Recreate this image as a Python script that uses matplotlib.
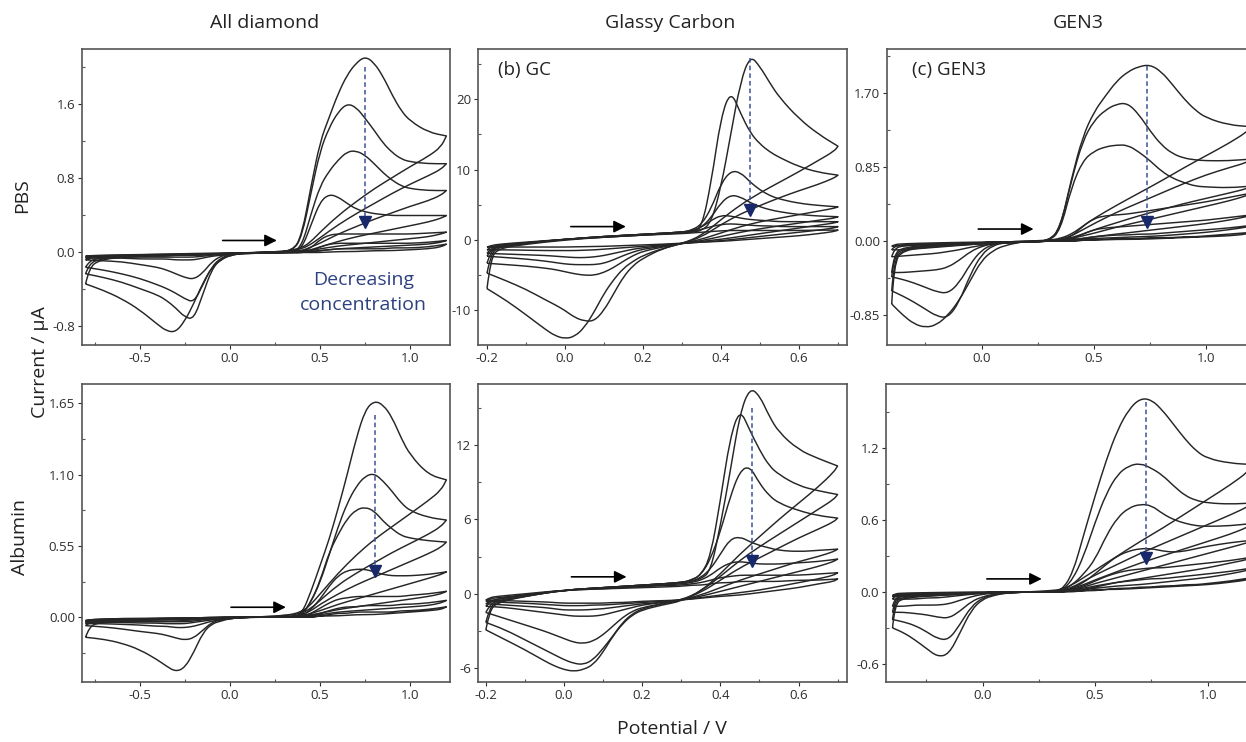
import matplotlib
matplotlib.use('Agg')
import matplotlib.pyplot as plt
from matplotlib.path import Path
from matplotlib.patches import PathPatch

plt.rcParams['font.family'] = ['Open Sans', 'DejaVu Sans']

# ---------------- potential grids (V) ----------------
ad_E_fwd = [-0.80, -0.78, -0.72, -0.6, -0.4, -0.2, 0.0, 0.2, 0.35, 0.40, 0.45, 0.50,
            0.55, 0.60, 0.65, 0.70, 0.75, 0.80, 0.85, 0.90, 0.95, 1.00, 1.10, 1.20]
ad_E_rev = [1.20, 1.17, 1.10, 1.00, 0.90, 0.80, 0.70, 0.60, 0.50, 0.45, 0.40, 0.30, 0.10,
            0.00, -0.05, -0.10, -0.15, -0.20, -0.25, -0.30, -0.35, -0.40, -0.50, -0.60, -0.70, -0.80]

gc_E_fwd = [-0.20, -0.19, -0.17, -0.1, 0.0, 0.1, 0.2, 0.3, 0.325, 0.35, 0.375, 0.40,
            0.425, 0.45, 0.475, 0.50, 0.525, 0.55, 0.60, 0.65, 0.70]
gc_E_rev = [0.70, 0.69, 0.65, 0.60, 0.55, 0.50, 0.45, 0.40, 0.35, 0.30, 0.25, 0.20, 0.175,
            0.15, 0.125, 0.10, 0.075, 0.05, 0.025, 0.0, -0.025, -0.05, -0.10, -0.15, -0.20]

gen3_E_fwd = [-0.40, -0.39, -0.35, -0.2, 0.0, 0.2, 0.3, 0.35, 0.40, 0.45, 0.50, 0.55,
              0.60, 0.65, 0.70, 0.75, 0.80, 0.85, 0.90, 0.95, 1.00, 1.10, 1.20]
gen3_E_rev = [1.20, 1.18, 1.10, 1.00, 0.90, 0.80, 0.70, 0.60, 0.50, 0.45, 0.40, 0.35, 0.30,
              0.20, 0.10, 0.05, 0.0, -0.05, -0.10, -0.15, -0.20, -0.25, -0.30, -0.35, -0.40]

# ---------------- All diamond, PBS (uA) ----------------
ad_pbs_fwd = [
    [-0.34, -0.16, -0.08, -0.05, -0.03, -0.02, -0.01, 0.0, 0.01, 0.2, 0.72, 1.2, 1.46, 1.72, 1.92, 2.05, 2.12, 2.05, 1.9, 1.7, 1.53, 1.42, 1.30, 1.26],
    [-0.23, -0.12, -0.07, -0.05, -0.03, -0.02, -0.01, 0.0, 0.01, 0.18, 0.65, 1.1, 1.35, 1.52, 1.61, 1.57, 1.45, 1.32, 1.18, 1.08, 1.01, 0.98, 0.96, 0.96],
    [-0.16, -0.09, -0.06, -0.04, -0.03, -0.02, -0.01, 0.0, 0.0, 0.08, 0.42, 0.72, 0.88, 1.0, 1.09, 1.1, 1.05, 0.96, 0.86, 0.78, 0.72, 0.69, 0.67, 0.67],
    [-0.08, -0.06, -0.05, -0.04, -0.03, -0.02, -0.01, 0.0, 0.0, 0.05, 0.3, 0.55, 0.63, 0.6, 0.53, 0.47, 0.44, 0.42, 0.41, 0.40, 0.40, 0.40, 0.40, 0.40],
    [-0.06, -0.05, -0.045, -0.035, -0.025, -0.02, -0.01, 0.0, 0.0, 0.01, 0.05, 0.14, 0.19, 0.2, 0.2, 0.2, 0.2, 0.2, 0.2, 0.2, 0.2, 0.2, 0.21, 0.22],
    [-0.05, -0.04, -0.035, -0.03, -0.02, -0.015, -0.01, 0.0, 0.0, 0.0, 0.02, 0.06, 0.09, 0.1, 0.1, 0.1, 0.1, 0.1, 0.1, 0.1, 0.1, 0.1, 0.11, 0.13],
    [-0.04, -0.035, -0.03, -0.025, -0.02, -0.01, -0.005, 0.0, 0.0, 0.0, 0.01, 0.02, 0.03, 0.04, 0.04, 0.04, 0.04, 0.04, 0.04, 0.05, 0.05, 0.05, 0.06, 0.09],
]
ad_pbs_rev = [
    [1.26, 1.14, 1.04, 0.93, 0.81, 0.69, 0.55, 0.40, 0.22, 0.12, 0.05, 0.01, 0.0, -0.03, -0.08, -0.16, -0.33, -0.55, -0.74, -0.86, -0.85, -0.78, -0.62, -0.5, -0.41, -0.34],
    [0.96, 0.9, 0.83, 0.74, 0.64, 0.53, 0.42, 0.30, 0.16, 0.09, 0.04, 0.0, 0.0, -0.03, -0.07, -0.18, -0.45, -0.72, -0.70, -0.60, -0.52, -0.46, -0.39, -0.32, -0.27, -0.23],
    [0.67, 0.62, 0.56, 0.5, 0.43, 0.36, 0.28, 0.2, 0.1, 0.06, 0.02, 0.0, 0.0, -0.02, -0.06, -0.15, -0.35, -0.54, -0.5, -0.44, -0.39, -0.35, -0.28, -0.23, -0.19, -0.16],
    [0.40, 0.37, 0.33, 0.29, 0.25, 0.21, 0.17, 0.12, 0.06, 0.03, 0.01, 0.0, 0.0, -0.01, -0.04, -0.1, -0.22, -0.29, -0.27, -0.23, -0.19, -0.16, -0.13, -0.1, -0.09, -0.08],
    [0.22, 0.2, 0.17, 0.15, 0.13, 0.11, 0.09, 0.07, 0.04, 0.02, 0.01, 0.0, -0.01, -0.02, -0.03, -0.04, -0.06, -0.08, -0.08, -0.08, -0.07, -0.07, -0.07, -0.06, -0.06, -0.06],
    [0.13, 0.11, 0.09, 0.08, 0.07, 0.06, 0.05, 0.04, 0.02, 0.01, 0.0, 0.0, -0.01, -0.02, -0.02, -0.03, -0.04, -0.05, -0.05, -0.05, -0.05, -0.05, -0.05, -0.05, -0.05, -0.05],
    [0.09, 0.06, 0.04, 0.03, 0.02, 0.02, 0.01, 0.01, 0.0, 0.0, 0.0, 0.0, -0.01, -0.01, -0.02, -0.02, -0.03, -0.03, -0.03, -0.03, -0.04, -0.04, -0.04, -0.04, -0.04, -0.04],
]

# ---------------- Glassy carbon, PBS ----------------
gc_pbs_fwd = [
    [-6.9, -2.5, -1.2, -0.6, 0.0, 0.4, 0.7, 1.0, 1.1, 1.3, 2.5, 7.5, 15.0, 22.5, 26.2, 24.6, 22.3, 20.2, 17.2, 15.0, 13.3],
    [-4.7, -2.0, -1.0, -0.5, 0.1, 0.5, 0.8, 1.1, 1.3, 1.6, 8.2, 17.5, 21.2, 18.0, 15.2, 13.6, 12.5, 11.7, 10.4, 9.6, 9.2],
    [-3.3, -1.6, -0.9, -0.5, 0.1, 0.5, 0.8, 1.1, 1.4, 2.2, 4.5, 8.0, 9.8, 9.6, 8.2, 7.1, 6.3, 5.8, 5.2, 4.9, 4.7],
    [-2.3, -1.4, -0.8, -0.4, 0.1, 0.5, 0.8, 1.1, 1.3, 1.8, 3.2, 5.3, 6.4, 6.1, 5.3, 4.7, 4.3, 4.0, 3.6, 3.4, 3.3],
    [-1.9, -1.2, -0.8, -0.4, 0.1, 0.5, 0.8, 1.1, 1.3, 1.8, 2.8, 3.5, 3.4, 3.1, 2.9, 2.8, 2.7, 2.6, 2.6, 2.6, 2.6],
    [-1.4, -1.0, -0.7, -0.4, 0.1, 0.4, 0.7, 1.0, 1.2, 1.5, 1.9, 2.2, 2.3, 2.2, 2.1, 2.0, 2.0, 1.9, 1.9, 1.9, 1.9],
    [-1.0, -0.8, -0.6, -0.3, 0.1, 0.4, 0.7, 0.9, 1.0, 1.1, 1.2, 1.3, 1.35, 1.35, 1.35, 1.35, 1.35, 1.35, 1.35, 1.4, 1.4],
]
gc_pbs_rev = [
    [13.3, 12.6, 11.3, 9.7, 8.2, 6.7, 5.0, 2.9, 0.6, -0.5, -1.2, -2.2, -3.0, -4.0, -5.6, -7.6, -10.2, -12.4, -13.7, -14.0, -13.6, -12.7, -10.6, -8.6, -6.9],
    [9.2, 8.8, 7.9, 7.0, 6.0, 4.9, 3.7, 2.2, 0.4, -0.5, -1.2, -2.6, -3.6, -5.2, -7.6, -10.0, -11.5, -11.5, -11.0, -10.0, -9.2, -8.5, -7.0, -5.8, -4.7],
    [4.7, 4.5, 4.1, 3.6, 3.1, 2.6, 1.9, 1.0, 0.1, -0.5, -1.0, -1.6, -2.2, -3.0, -3.9, -4.6, -5.0, -5.0, -4.8, -4.5, -4.2, -4.0, -3.7, -3.5, -3.3],
    [3.3, 3.1, 2.8, 2.4, 2.0, 1.6, 1.1, 0.5, -0.1, -0.5, -0.9, -1.3, -1.7, -2.2, -2.8, -3.3, -3.5, -3.5, -3.5, -3.4, -3.2, -3.0, -2.7, -2.5, -2.3],
    [2.6, 2.4, 2.1, 1.7, 1.3, 0.9, 0.5, 0.1, -0.2, -0.5, -0.8, -1.1, -1.3, -1.6, -1.9, -2.2, -2.4, -2.5, -2.5, -2.4, -2.3, -2.2, -2.1, -2.0, -1.9],
    [1.9, 1.7, 1.4, 1.1, 0.8, 0.5, 0.2, -0.1, -0.3, -0.5, -0.7, -0.9, -1.0, -1.1, -1.2, -1.3, -1.4, -1.45, -1.5, -1.5, -1.5, -1.5, -1.45, -1.4, -1.4],
    [1.4, 1.2, 0.9, 0.6, 0.4, 0.2, 0.0, -0.2, -0.3, -0.45, -0.6, -0.7, -0.75, -0.8, -0.85, -0.9, -0.92, -0.95, -0.97, -1.0, -1.0, -1.0, -1.0, -1.0, -1.0],
]

# ---------------- GEN3, PBS ----------------
gen3_pbs_fwd = [
    [-0.72, -0.25, -0.1, -0.06, -0.03, -0.01, 0.0, 0.15, 0.72, 1.2, 1.48, 1.66, 1.83, 1.94, 2.0, 2.02, 1.94, 1.79, 1.63, 1.5, 1.41, 1.33, 1.31],
    [-0.57, -0.22, -0.09, -0.05, -0.03, -0.01, 0.0, 0.15, 0.7, 1.15, 1.38, 1.5, 1.57, 1.58, 1.45, 1.26, 1.1, 1.0, 0.95, 0.93, 0.92, 0.92, 0.94],
    [-0.41, -0.18, -0.08, -0.05, -0.03, -0.01, 0.0, 0.12, 0.62, 0.92, 1.03, 1.08, 1.1, 1.1, 1.02, 0.92, 0.8, 0.72, 0.67, 0.63, 0.62, 0.61, 0.63],
    [-0.36, -0.15, -0.07, -0.04, -0.02, -0.01, 0.0, 0.01, 0.05, 0.17, 0.26, 0.29, 0.3, 0.31, 0.33, 0.35, 0.37, 0.39, 0.41, 0.43, 0.45, 0.5, 0.55],
    [-0.18, -0.09, -0.05, -0.03, -0.02, -0.01, 0.0, 0.0, 0.02, 0.08, 0.13, 0.15, 0.16, 0.17, 0.18, 0.19, 0.2, 0.21, 0.22, 0.23, 0.24, 0.27, 0.3],
    [-0.1, -0.06, -0.04, -0.03, -0.02, -0.01, 0.0, 0.0, 0.01, 0.03, 0.05, 0.06, 0.07, 0.07, 0.08, 0.08, 0.09, 0.1, 0.11, 0.12, 0.13, 0.15, 0.18],
    [-0.06, -0.04, -0.03, -0.02, -0.01, -0.01, 0.0, 0.0, 0.0, 0.01, 0.02, 0.02, 0.03, 0.03, 0.03, 0.04, 0.04, 0.04, 0.05, 0.05, 0.06, 0.08, 0.1],
]
gen3_pbs_rev = [
    [1.31, 1.25, 1.12, 0.98, 0.84, 0.69, 0.55, 0.41, 0.26, 0.17, 0.08, 0.03, 0.01, 0.0, -0.05, -0.11, -0.22, -0.45, -0.68, -0.85, -0.96, -0.99, -0.95, -0.85, -0.72],
    [0.94, 0.9, 0.84, 0.76, 0.66, 0.55, 0.44, 0.33, 0.2, 0.13, 0.06, 0.02, 0.0, 0.0, -0.02, -0.05, -0.15, -0.38, -0.7, -0.88, -0.86, -0.78, -0.7, -0.63, -0.57],
    [0.63, 0.6, 0.55, 0.49, 0.43, 0.36, 0.29, 0.21, 0.13, 0.08, 0.04, 0.01, 0.0, 0.0, -0.01, -0.04, -0.1, -0.26, -0.48, -0.6, -0.58, -0.53, -0.48, -0.44, -0.41],
    [0.55, 0.52, 0.46, 0.4, 0.34, 0.28, 0.22, 0.16, 0.09, 0.06, 0.03, 0.01, 0.0, 0.0, -0.01, -0.03, -0.06, -0.12, -0.22, -0.3, -0.33, -0.34, -0.35, -0.36, -0.36],
    [0.3, 0.28, 0.24, 0.2, 0.17, 0.14, 0.11, 0.08, 0.05, 0.03, 0.02, 0.01, 0.0, -0.01, -0.02, -0.03, -0.05, -0.07, -0.1, -0.12, -0.14, -0.15, -0.16, -0.17, -0.18],
    [0.18, 0.16, 0.13, 0.1, 0.08, 0.06, 0.05, 0.04, 0.03, 0.02, 0.01, 0.0, 0.0, -0.01, -0.01, -0.02, -0.03, -0.04, -0.05, -0.06, -0.07, -0.08, -0.09, -0.1, -0.1],
    [0.1, 0.08, 0.06, 0.05, 0.04, 0.03, 0.02, 0.02, 0.01, 0.01, 0.0, 0.0, 0.0, -0.01, -0.01, -0.01, -0.02, -0.02, -0.03, -0.03, -0.04, -0.04, -0.05, -0.05, -0.06],
]

# ---------------- All diamond, Albumin ----------------
ad_alb_fwd = [
    [-0.155, -0.07, -0.04, -0.03, -0.02, -0.01, 0.0, 0.0, 0.0, 0.03, 0.2, 0.4, 0.6, 0.84, 1.1, 1.38, 1.6, 1.67, 1.64, 1.54, 1.38, 1.25, 1.1, 1.06],
    [-0.065, -0.04, -0.03, -0.02, -0.015, -0.01, 0.0, 0.0, 0.0, 0.02, 0.12, 0.27, 0.48, 0.7, 0.88, 1.01, 1.09, 1.11, 1.05, 0.97, 0.88, 0.82, 0.77, 0.75],
    [-0.05, -0.035, -0.025, -0.02, -0.015, -0.01, 0.0, 0.0, 0.0, 0.02, 0.12, 0.28, 0.5, 0.64, 0.76, 0.83, 0.85, 0.82, 0.74, 0.68, 0.63, 0.61, 0.59, 0.58],
    [-0.04, -0.03, -0.02, -0.015, -0.01, -0.005, 0.0, 0.0, 0.0, 0.01, 0.06, 0.14, 0.24, 0.32, 0.36, 0.37, 0.37, 0.35, 0.33, 0.32, 0.32, 0.32, 0.33, 0.35],
    [-0.035, -0.025, -0.02, -0.015, -0.01, -0.005, 0.0, 0.0, 0.0, 0.0, 0.03, 0.07, 0.11, 0.14, 0.15, 0.16, 0.16, 0.16, 0.16, 0.16, 0.16, 0.17, 0.18, 0.2],
    [-0.03, -0.02, -0.015, -0.01, -0.01, -0.005, 0.0, 0.0, 0.0, 0.0, 0.01, 0.03, 0.05, 0.07, 0.08, 0.08, 0.09, 0.09, 0.09, 0.09, 0.1, 0.1, 0.11, 0.13],
    [-0.025, -0.02, -0.015, -0.01, -0.01, -0.005, 0.0, 0.0, 0.0, 0.0, 0.0, 0.01, 0.02, 0.03, 0.03, 0.04, 0.04, 0.04, 0.04, 0.04, 0.05, 0.05, 0.06, 0.08],
]
ad_alb_rev = [
    [1.06, 0.98, 0.9, 0.8, 0.7, 0.6, 0.48, 0.34, 0.18, 0.1, 0.04, 0.01, 0.0, -0.01, -0.03, -0.05, -0.12, -0.27, -0.39, -0.42, -0.38, -0.33, -0.25, -0.2, -0.17, -0.155],
    [0.75, 0.7, 0.64, 0.57, 0.5, 0.42, 0.34, 0.25, 0.13, 0.07, 0.03, 0.01, 0.0, -0.01, -0.02, -0.04, -0.1, -0.16, -0.176, -0.16, -0.14, -0.125, -0.11, -0.09, -0.075, -0.065],
    [0.58, 0.54, 0.49, 0.43, 0.37, 0.31, 0.25, 0.18, 0.1, 0.05, 0.02, 0.0, 0.0, -0.01, -0.02, -0.03, -0.05, -0.07, -0.08, -0.08, -0.07, -0.07, -0.06, -0.055, -0.05, -0.05],
    [0.35, 0.33, 0.3, 0.26, 0.22, 0.18, 0.14, 0.1, 0.05, 0.03, 0.01, 0.0, 0.0, -0.01, -0.015, -0.02, -0.03, -0.04, -0.05, -0.05, -0.05, -0.045, -0.045, -0.04, -0.04, -0.04],
    [0.2, 0.18, 0.16, 0.14, 0.12, 0.1, 0.08, 0.06, 0.03, 0.02, 0.01, 0.0, 0.0, -0.005, -0.01, -0.015, -0.02, -0.03, -0.035, -0.035, -0.035, -0.035, -0.035, -0.035, -0.035, -0.035],
    [0.13, 0.11, 0.09, 0.08, 0.07, 0.06, 0.05, 0.04, 0.02, 0.01, 0.0, 0.0, 0.0, -0.005, -0.01, -0.01, -0.015, -0.02, -0.025, -0.03, -0.03, -0.03, -0.03, -0.03, -0.03, -0.03],
    [0.08, 0.06, 0.05, 0.04, 0.03, 0.02, 0.02, 0.01, 0.01, 0.0, 0.0, 0.0, 0.0, -0.005, -0.005, -0.01, -0.01, -0.015, -0.02, -0.02, -0.02, -0.02, -0.025, -0.025, -0.025, -0.025],
]

# ---------------- Glassy carbon, Albumin ----------------
gc_alb_fwd = [
    [-2.9, -1.3, -0.7, -0.2, 0.3, 0.5, 0.7, 0.9, 1.0, 1.2, 1.8, 5.5, 9.8, 14.5, 16.6, 16.0, 14.3, 13.0, 11.6, 10.9, 10.3],
    [-2.3, -1.1, -0.6, -0.2, 0.3, 0.5, 0.7, 0.9, 1.1, 1.5, 3.0, 7.5, 12.6, 14.9, 13.2, 11.6, 10.3, 9.6, 8.7, 8.3, 8.0],
    [-1.5, -0.9, -0.5, -0.2, 0.3, 0.5, 0.7, 0.9, 1.1, 1.5, 2.8, 5.0, 7.8, 9.9, 10.3, 8.9, 7.9, 7.3, 6.7, 6.3, 6.1],
    [-1.0, -0.7, -0.4, -0.1, 0.3, 0.5, 0.7, 0.9, 1.0, 1.3, 2.0, 3.2, 4.4, 4.6, 4.2, 3.9, 3.7, 3.5, 3.4, 3.5, 3.6],
    [-0.8, -0.6, -0.4, -0.1, 0.3, 0.5, 0.6, 0.8, 0.9, 1.1, 1.5, 2.1, 2.5, 2.6, 2.5, 2.4, 2.4, 2.4, 2.5, 2.6, 2.8],
    [-0.6, -0.4, -0.3, -0.1, 0.3, 0.4, 0.6, 0.7, 0.8, 0.9, 1.1, 1.3, 1.4, 1.5, 1.5, 1.5, 1.5, 1.5, 1.5, 1.6, 1.7],
    [-0.5, -0.3, -0.2, 0.0, 0.3, 0.4, 0.5, 0.6, 0.7, 0.7, 0.8, 0.9, 0.9, 1.0, 1.0, 1.0, 1.0, 1.0, 1.1, 1.1, 1.2],
]
gc_alb_rev = [
    [10.3, 9.8, 8.6, 7.3, 6.0, 4.6, 3.2, 1.6, 0.2, -0.6, -0.9, -1.3, -1.7, -2.4, -3.4, -4.7, -5.7, -6.1, -6.24, -6.1, -5.8, -5.4, -4.5, -3.7, -2.9],
    [8.0, 7.6, 6.8, 5.8, 4.8, 3.8, 2.7, 1.4, 0.2, -0.5, -0.8, -1.2, -1.6, -2.3, -3.4, -4.4, -5.3, -5.7, -5.6, -5.3, -4.9, -4.5, -3.7, -2.9, -2.3],
    [6.1, 5.8, 5.2, 4.5, 3.7, 2.9, 2.1, 1.1, 0.1, -0.5, -0.8, -1.1, -1.4, -1.9, -2.6, -3.3, -3.8, -4.0, -3.9, -3.6, -3.3, -3.0, -2.5, -2.0, -1.5],
    [3.6, 3.4, 3.0, 2.6, 2.1, 1.6, 1.1, 0.5, -0.1, -0.5, -0.7, -0.9, -1.1, -1.3, -1.5, -1.7, -1.8, -1.8, -1.8, -1.7, -1.6, -1.5, -1.3, -1.1, -1.0],
    [2.8, 2.6, 2.2, 1.8, 1.4, 1.0, 0.6, 0.2, -0.2, -0.5, -0.7, -0.8, -0.9, -1.0, -1.1, -1.2, -1.25, -1.3, -1.3, -1.3, -1.2, -1.1, -1.0, -0.9, -0.8],
    [1.7, 1.5, 1.2, 0.9, 0.6, 0.3, 0.1, -0.1, -0.3, -0.5, -0.6, -0.7, -0.75, -0.8, -0.85, -0.9, -0.9, -0.95, -0.95, -0.95, -0.9, -0.85, -0.75, -0.7, -0.6],
    [1.2, 1.0, 0.8, 0.5, 0.3, 0.1, -0.1, -0.2, -0.35, -0.5, -0.55, -0.6, -0.65, -0.7, -0.7, -0.75, -0.75, -0.75, -0.75, -0.75, -0.7, -0.65, -0.6, -0.55, -0.5],
]

# ---------------- GEN3, Albumin ----------------
gen3_alb_fwd = [
    [-0.3, -0.1, -0.05, -0.03, -0.01, 0.0, 0.0, 0.01, 0.15, 0.48, 0.8, 1.1, 1.35, 1.52, 1.61, 1.6, 1.51, 1.39, 1.27, 1.17, 1.11, 1.07, 1.06],
    [-0.23, -0.08, -0.04, -0.03, -0.01, 0.0, 0.0, 0.01, 0.1, 0.3, 0.58, 0.82, 0.98, 1.05, 1.07, 1.03, 0.97, 0.88, 0.8, 0.76, 0.74, 0.73, 0.74],
    [-0.17, -0.06, -0.03, -0.02, -0.01, 0.0, 0.0, 0.01, 0.06, 0.15, 0.27, 0.47, 0.62, 0.7, 0.73, 0.72, 0.65, 0.6, 0.57, 0.55, 0.545, 0.55, 0.57],
    [-0.12, -0.05, -0.03, -0.02, -0.01, 0.0, 0.0, 0.0, 0.03, 0.08, 0.15, 0.23, 0.3, 0.34, 0.36, 0.36, 0.34, 0.33, 0.34, 0.36, 0.38, 0.41, 0.43],
    [-0.06, -0.03, -0.02, -0.015, -0.01, 0.0, 0.0, 0.0, 0.02, 0.05, 0.09, 0.13, 0.16, 0.18, 0.19, 0.2, 0.2, 0.21, 0.22, 0.23, 0.24, 0.26, 0.29],
    [-0.04, -0.02, -0.015, -0.01, -0.005, 0.0, 0.0, 0.0, 0.01, 0.02, 0.04, 0.06, 0.08, 0.09, 0.1, 0.11, 0.11, 0.12, 0.13, 0.14, 0.15, 0.17, 0.2],
    [-0.03, -0.015, -0.01, -0.005, 0.0, 0.0, 0.0, 0.0, 0.0, 0.01, 0.01, 0.02, 0.03, 0.03, 0.04, 0.04, 0.05, 0.05, 0.06, 0.06, 0.07, 0.09, 0.12],
]
gen3_alb_rev = [
    [1.06, 1.0, 0.89, 0.77, 0.65, 0.53, 0.42, 0.3, 0.18, 0.12, 0.06, 0.02, 0.01, 0.0, -0.01, -0.03, -0.06, -0.15, -0.34, -0.52, -0.54, -0.47, -0.4, -0.34, -0.3],
    [0.74, 0.71, 0.64, 0.56, 0.48, 0.4, 0.32, 0.23, 0.14, 0.09, 0.04, 0.01, 0.0, 0.0, -0.01, -0.02, -0.05, -0.12, -0.27, -0.4, -0.39, -0.33, -0.28, -0.25, -0.23],
    [0.57, 0.54, 0.48, 0.42, 0.36, 0.3, 0.24, 0.17, 0.1, 0.06, 0.03, 0.01, 0.0, 0.0, -0.01, -0.02, -0.04, -0.08, -0.16, -0.22, -0.21, -0.19, -0.18, -0.17, -0.17],
    [0.43, 0.41, 0.37, 0.32, 0.27, 0.22, 0.17, 0.12, 0.07, 0.04, 0.02, 0.01, 0.0, 0.0, -0.01, -0.01, -0.02, -0.04, -0.07, -0.1, -0.11, -0.11, -0.11, -0.12, -0.12],
    [0.29, 0.27, 0.24, 0.2, 0.17, 0.14, 0.11, 0.08, 0.05, 0.03, 0.02, 0.01, 0.0, 0.0, -0.01, -0.01, -0.01, -0.02, -0.03, -0.04, -0.05, -0.05, -0.06, -0.06, -0.06],
    [0.2, 0.18, 0.15, 0.12, 0.1, 0.08, 0.06, 0.05, 0.03, 0.02, 0.01, 0.0, 0.0, 0.0, 0.0, -0.01, -0.01, -0.01, -0.02, -0.02, -0.03, -0.03, -0.04, -0.04, -0.04],
    [0.12, 0.1, 0.08, 0.06, 0.05, 0.04, 0.03, 0.02, 0.02, 0.01, 0.01, 0.0, 0.0, 0.0, 0.0, 0.0, -0.01, -0.01, -0.01, -0.01, -0.02, -0.02, -0.02, -0.03, -0.03],
]

# sweep-direction arrows (E start, E end, I) and trend line (E, I top, I bottom)
ad_pbs_arrow, ad_pbs_trend = [-0.04, 0.26, 0.13], [0.748, 2.0, 0.33]
gc_pbs_arrow, gc_pbs_trend = [0.015, 0.156, 1.9], [0.474, 25.8, 4.3]
gen3_pbs_arrow, gen3_pbs_trend = [-0.015, 0.231, 0.138], [0.736, 2.0, 0.22]
ad_alb_arrow, ad_alb_trend = [0.006, 0.31, 0.077], [0.803, 1.56, 0.36]
gc_alb_arrow, gc_alb_trend = [0.019, 0.16, 1.37], [0.481, 15.0, 2.64]
gen3_alb_arrow, gen3_alb_trend = [0.019, 0.263, 0.108], [0.726, 1.58, 0.28]

W, H = 1246, 742
fig = plt.figure(figsize=(W / 100, H / 100), dpi=100)


def px_axes(left, right, top, bottom):
    return fig.add_axes([left / W, 1 - bottom / H, (right - left) / W, (bottom - top) / H])


def loop_path(xs, ys):
    # smooth rendering: read points act as quadratic control points
    pts = list(zip(xs, ys))
    verts, codes = [pts[0]], [Path.MOVETO]
    for i in range(1, len(pts) - 1):
        nxt = ((pts[i][0] + pts[i + 1][0]) / 2, (pts[i][1] + pts[i + 1][1]) / 2)
        verts += [pts[i], nxt]
        codes += [Path.CURVE3, Path.CURVE3]
    verts.append(pts[-1])
    codes.append(Path.LINETO)
    return Path(verts, codes)


def draw_panel(ax, e_fwd, e_rev, fwd, rev, arrow, trend):
    for f, r in zip(fwd, rev):
        ax.add_patch(PathPatch(loop_path(e_fwd + e_rev, f + r), fill=False,
                               edgecolor='#262626', lw=1.05, joinstyle='round'))
    ax.annotate('', xy=(arrow[1], arrow[2]), xytext=(arrow[0], arrow[2]),
                arrowprops=dict(arrowstyle='-|>', color='black', lw=1.2, mutation_scale=18,
                                shrinkA=0, shrinkB=0))
    ax.plot([trend[0], trend[0]], [trend[1], trend[2]], color='#3b5296', lw=1.1,
            ls=(0, (3, 2)))
    ax.plot(trend[0], trend[2], marker='v', ms=8, color='#17286b', mec='#17286b')
    for s in ax.spines.values():
        s.set_color('#555555')
        s.set_linewidth(1.2)
    ax.tick_params(which='major', direction='out', length=3, width=0.8, labelsize=9.5,
                   colors='#2e2e2e', pad=2)
    ax.tick_params(which='minor', direction='in', length=2.5, width=0.8, colors='#555555')


def set_ticks(ax, xt, xl, xm, yt, yl, ym, xlim, ylim):
    ax.set_xticks(xt, labels=xl)
    ax.set_xticks(xm, minor=True)
    ax.set_yticks(yt, labels=yl)
    ax.set_yticks(ym, minor=True)
    ax.set_xlim(*xlim)
    ax.set_ylim(*ylim)


ad_xt, ad_xl, ad_xm = [-0.5, 0.0, 0.5, 1.0], ['-0.5', '0.0', '0.5', '1.0'], [-0.75, -0.25, 0.25, 0.75]
gc_xt, gc_xl, gc_xm = [-0.2, 0.0, 0.2, 0.4, 0.6], ['-0.2', '0.0', '0.2', '0.4', '0.6'], [-0.1, 0.1, 0.3, 0.5, 0.7]
g3_xt, g3_xl, g3_xm = [0.0, 0.5, 1.0], ['0.0', '0.5', '1.0'], [-0.25, 0.25, 0.75]

# top row
ax = px_axes(82, 450, 49, 345)
draw_panel(ax, ad_E_fwd, ad_E_rev, ad_pbs_fwd, ad_pbs_rev, ad_pbs_arrow, ad_pbs_trend)
set_ticks(ax, ad_xt, ad_xl, ad_xm, [-0.8, 0.0, 0.8, 1.6], ['-0.8', '0.0', '0.8', '1.6'],
          [-0.4, 0.4, 1.2, 2.0], (-0.82, 1.22), (-1.0, 2.2))
ax.text(0.742, -0.2, 'Decreasing\nconcentration', color='#2e4180', fontsize=14,
        ha='center', va='top', linespacing=1.5)

ax = px_axes(478, 847, 49, 345)
draw_panel(ax, gc_E_fwd, gc_E_rev, gc_pbs_fwd, gc_pbs_rev, gc_pbs_arrow, gc_pbs_trend)
set_ticks(ax, gc_xt, gc_xl, gc_xm, [-10, 0, 10, 20], ['-10', '0', '10', '20'],
          [-5, 5, 15, 25], (-0.223, 0.723), (-14.9, 27.1))
ax.text(0.055, 0.93, '(b) GC', transform=ax.transAxes, fontsize=13.5, color='#222222',
        ha='left', va='center')

ax = px_axes(887, 1250, 49, 345)
draw_panel(ax, gen3_E_fwd, gen3_E_rev, gen3_pbs_fwd, gen3_pbs_rev, gen3_pbs_arrow, gen3_pbs_trend)
set_ticks(ax, g3_xt, g3_xl, g3_xm, [-0.85, 0.0, 0.85, 1.70], ['-0.85', '0.00', '0.85', '1.70'],
          [-0.425, 0.425, 1.275, 2.125], (-0.421, 1.194), (-1.19, 2.20))
ax.text(0.07, 0.93, '(c) GEN3', transform=ax.transAxes, fontsize=13.5, color='#222222',
        ha='left', va='center')

# bottom row
ax = px_axes(82, 450, 384, 682)
draw_panel(ax, ad_E_fwd, ad_E_rev, ad_alb_fwd, ad_alb_rev, ad_alb_arrow, ad_alb_trend)
set_ticks(ax, ad_xt, ad_xl, ad_xm, [0.0, 0.55, 1.10, 1.65], ['0.00', '0.55', '1.10', '1.65'],
          [-0.275, 0.275, 0.825, 1.375], (-0.82, 1.22), (-0.50, 1.80))

ax = px_axes(478, 847, 384, 682)
draw_panel(ax, gc_E_fwd, gc_E_rev, gc_alb_fwd, gc_alb_rev, gc_alb_arrow, gc_alb_trend)
set_ticks(ax, gc_xt, gc_xl, gc_xm, [-6, 0, 6, 12], ['-6', '0', '6', '12'],
          [-3, 3, 9, 15], (-0.22, 0.724), (-7.1, 16.9))

ax = px_axes(886, 1250, 384, 682)
draw_panel(ax, gen3_E_fwd, gen3_E_rev, gen3_alb_fwd, gen3_alb_rev, gen3_alb_arrow, gen3_alb_trend)
set_ticks(ax, g3_xt, g3_xl, g3_xm, [-0.6, 0.0, 0.6, 1.2], ['-0.6', '0.0', '0.6', '1.2'],
          [-0.3, 0.3, 0.9, 1.5], (-0.429, 1.188), (-0.75, 1.73))

# titles and shared labels
lab = dict(fontsize=14, color='#222222', ha='center', va='center')
fig.text(265 / W, 1 - 23 / H, 'All diamond', **lab)
fig.text(670 / W, 1 - 23 / H, 'Glassy Carbon', **lab)
fig.text(1078 / W, 1 - 23 / H, 'GEN3', **lab)
fig.text(22 / W, 1 - 196 / H, 'PBS', rotation=90, **lab)
fig.text(20 / W, 1 - 537 / H, 'Albumin', rotation=90, **lab)
fig.text(40 / W, 1 - 362 / H, 'Current / μA', rotation=90, **lab)
fig.text(672 / W, 1 - 729 / H, 'Potential / V', **lab)

fig.savefig('out.png', dpi=100)
